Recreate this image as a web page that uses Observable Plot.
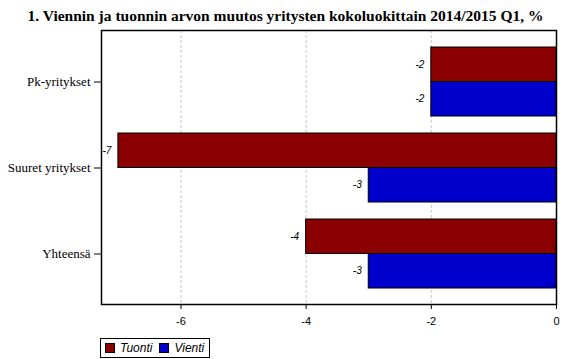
<!DOCTYPE html>
<html><head><meta charset="utf-8">
<script src="https://cdn.jsdelivr.net/npm/d3@7"></script>
<script src="https://cdn.jsdelivr.net/npm/@observablehq/plot@0.6"></script>
<style>
body{margin:0;background:#fff;width:567px;height:359px;overflow:hidden}
#title{font-family:"Liberation Serif","Times New Roman",serif;font-weight:bold;font-size:15.5px;text-align:center;height:17px;line-height:17px;padding-top:7px;padding-left:4px;color:#000;white-space:nowrap}
#chart svg{display:block}
#chart g[aria-label="y-axis tick label"] text{font-family:"Liberation Serif","Times New Roman",serif !important;font-size:13px}
#chart g[aria-label="x-axis tick label"] text{font-family:"Liberation Sans",Arial,sans-serif !important;font-size:11px}
#legend{position:absolute;left:100px;top:338px;height:18px;display:flex;align-items:center;border:1px solid #000;padding:0 5px 0 4px;font-family:"Liberation Sans",Arial,sans-serif;font-style:italic;font-size:12px;color:#000;box-sizing:content-box}
#legend .sw{display:inline-block;width:8px;height:8px;border:1px solid #000;margin-right:5px}
#legend .item{display:inline-flex;align-items:center;margin-right:7px}
#legend .item:last-child{margin-right:0}
</style></head>
<body>
<div id="title">1. Viennin ja tuonnin arvon muutos yritysten kokoluokittain 2014/2015 Q1, %</div>
<div id="chart"></div>
<div id="legend"></div>
<script>
const categories = ["Pk-yritykset", "Suuret yritykset", "Yhteensä"];
const series = ["Tuonti", "Vienti"];
const tuonti = [-2, -7, -4];
const vienti = [-2, -3, -3];
const xTicks = [-6, -4, -2, 0];
const colors = ["#8b0000", "#0000cd"];

const data = [];
categories.forEach((c, i) => {
  data.push({category: c, series: "Tuonti", value: tuonti[i]});
  data.push({category: c, series: "Vienti", value: vienti[i]});
});

function build(bw) {
  const half = bw / 2;
  const isT = d => d.series === "Tuonti";
  const tu = data.filter(isT), vi = data.filter(d => !isT(d));
  const textOpts = {x: "value", y: "category", text: d => String(d.value), textAnchor: "end", dx: -7, fontStyle: "italic", fontSize: 10, fontFamily: "Liberation Sans, Arial, sans-serif", fill: "#000"};
  return Plot.plot({
    width: 567,
    height: 310,
    marginTop: 6,
    marginBottom: 30,
    marginLeft: 101,
    marginRight: 11,
    style: {background: "#fff", color: "#000"},
    x: {domain: [-7.27, 0], label: null},
    y: {domain: categories, label: null, paddingInner: 0.2, paddingOuter: 0.184},
    color: {domain: series, range: colors},
    marks: [
      Plot.ruleX(xTicks.filter(d => d !== 0), {x: d => d, stroke: "#c8c8c8", strokeDasharray: "3,2"}),
      Plot.barX(tu, {x: "value", y: "category", fill: "series", stroke: "#000", strokeWidth: 1, insetBottom: half}),
      Plot.barX(vi, {x: "value", y: "category", fill: "series", stroke: "#000", strokeWidth: 1, insetTop: half}),
      Plot.text(tu, {...textOpts, dy: -bw / 4}),
      Plot.text(vi, {...textOpts, dy: bw / 4}),
      Plot.frame({stroke: "#000", strokeWidth: 1.5}),
      Plot.axisY({anchor: "left", label: null, tickSize: 7, tickPadding: 4, fontSize: 13, fontFamily: "Liberation Serif, Times New Roman, serif"}),
      Plot.axisX({anchor: "bottom", ticks: xTicks, tickFormat: d => String(d), label: null, tickSize: 5, tickPadding: 8, fontSize: 11, fontFamily: "Liberation Sans, Arial, sans-serif"})
    ]
  });
}
const first = build(0);
const bw = first.scale("y").bandwidth;
const chart = build(bw);
document.getElementById("chart").appendChild(chart);

const legend = document.getElementById("legend");
series.forEach((s, i) => {
  const item = document.createElement("span");
  item.className = "item";
  const sw = document.createElement("span");
  sw.className = "sw";
  sw.style.background = colors[i];
  item.appendChild(sw);
  item.appendChild(document.createTextNode(s));
  legend.appendChild(item);
});
</script>
</body></html>
